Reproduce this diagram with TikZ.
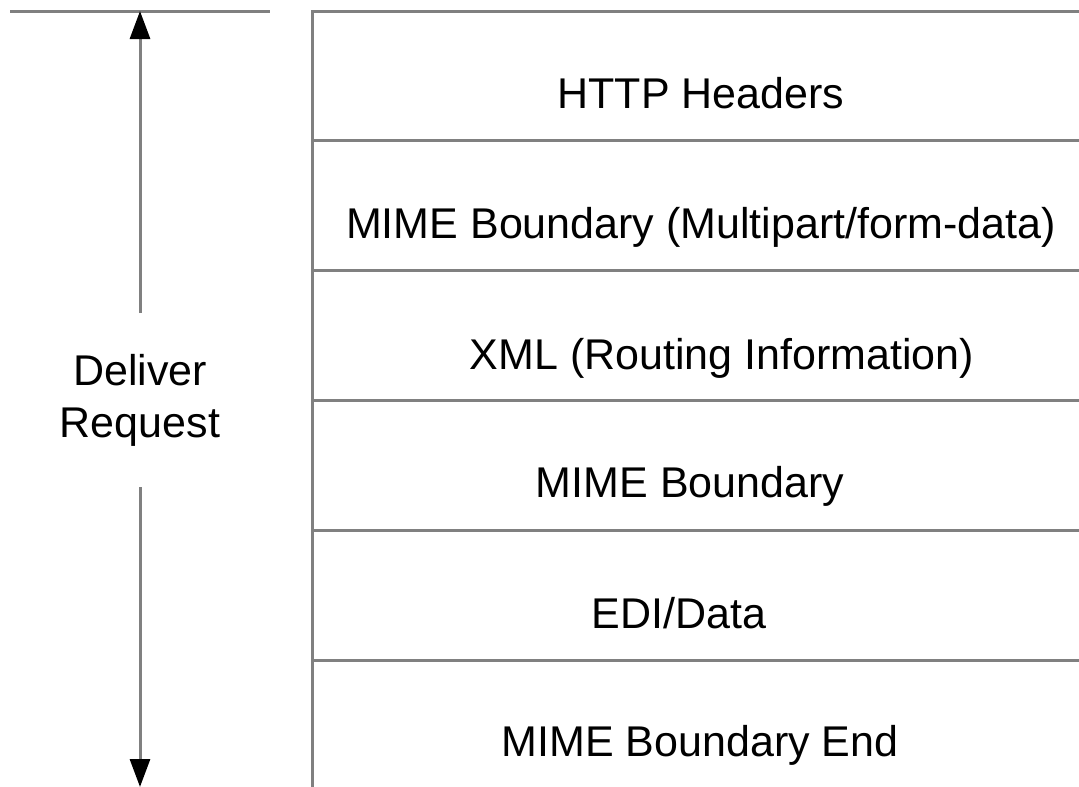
\documentclass[tikz,border=0pt]{standalone}
\usepackage{fontspec}
\setmainfont{Liberation Sans}
\usetikzlibrary{arrows.meta}
\definecolor{linegray}{RGB}{128,128,128}
\tikzset{
  rule/.style={draw=linegray, line width=3pt},
  lbl/.style={anchor=base, inner sep=0pt, font=\fontsize{43}{52}\selectfont, text=black},
  arr/.style={draw=linegray, line width=3pt, -{Triangle[length=28pt,width=20pt,black]}}
}
\begin{document}
\begin{tikzpicture}[x=1pt,y=-1pt]
\useasboundingbox (0,0) rectangle (1079,787);
% left marker line
\coordinate (tl) at (10,11);
\coordinate (tr) at (270,11);
\draw[rule] (tl) -- (tr);
% box frame
\coordinate (b0l) at (312,11);   \coordinate (b0r) at (1079,11);
\coordinate (b1l) at (312,140);  \coordinate (b1r) at (1079,140);
\coordinate (b2l) at (312,270);  \coordinate (b2r) at (1079,270);
\coordinate (b3l) at (312,400);  \coordinate (b3r) at (1079,400);
\coordinate (b4l) at (312,530);  \coordinate (b4r) at (1079,530);
\coordinate (b5l) at (312,660);  \coordinate (b5r) at (1079,660);
\coordinate (bbl) at (312,787);
\draw[rule] (b0r) -- (b0l) -- (bbl);
\draw[rule] (b1l) -- (b1r);
\draw[rule] (b2l) -- (b2r);
\draw[rule] (b3l) -- (b3r);
\draw[rule] (b4l) -- (b4r);
\draw[rule] (b5l) -- (b5r);
% row labels
\node[lbl] (r1) at (701,108) {HTTP Headers};
\node[lbl] (r2) at (701,238) {MIME Boundary (Multipart/form-data)};
\node[lbl] (r3) at (722,369) {XML (Routing Information)};
\node[lbl] (r4) at (690,497) {MIME Boundary};
\node[lbl] (r5) at (679,628) {EDI/Data};
\node[lbl] (r6) at (700,756) {MIME Boundary End};
% deliver request
\node[lbl] (d1) at (140,385) {Deliver};
\node[lbl] (d2) at (140,437) {Request};
\coordinate (aup) at (140,313);
\coordinate (atop) at (140,11);
\coordinate (adn) at (140,487);
\coordinate (abot) at (140,787);
\draw[arr] (aup) -- (atop);
\draw[arr] (adn) -- (abot);
\end{tikzpicture}
\end{document}
